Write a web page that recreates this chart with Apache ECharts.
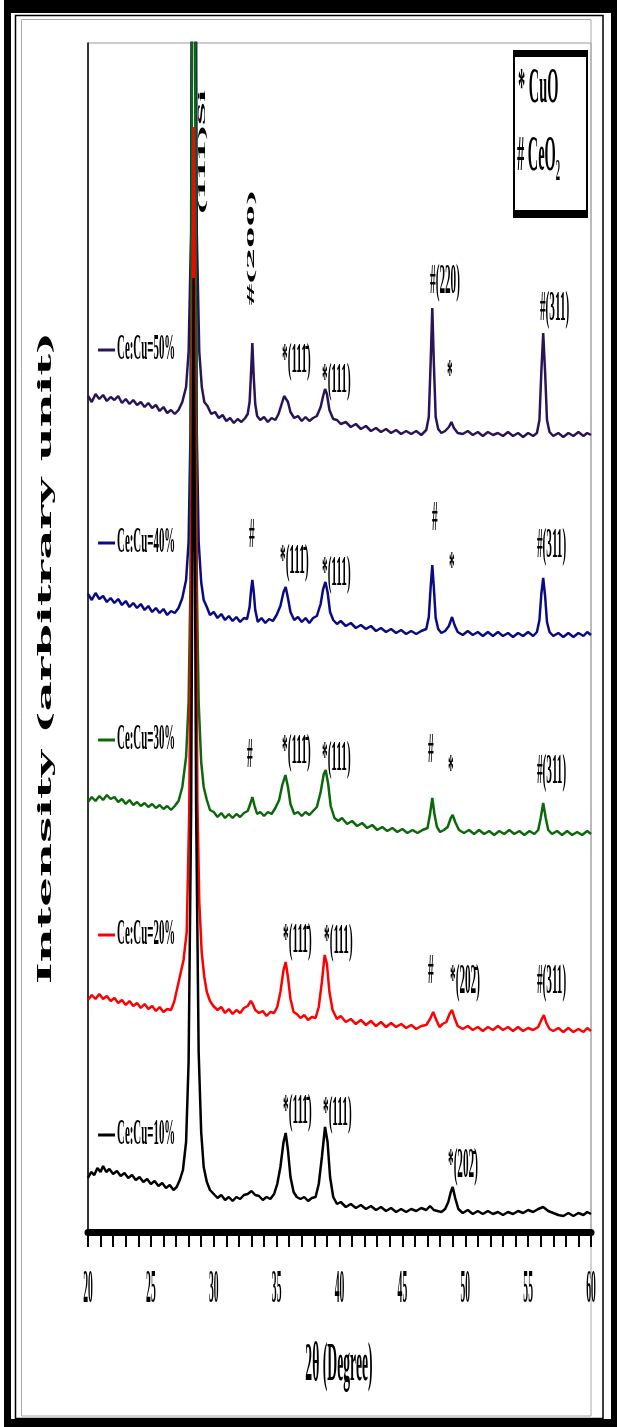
<!DOCTYPE html>
<html>
<head>
<meta charset="utf-8">
<script src="https://cdn.jsdelivr.net/npm/echarts@6/dist/echarts.min.js"></script>
<style>
  html, body { margin: 0; padding: 0; background: #fff; }
  #chart { width: 617px; height: 1427px; }
</style>
</head>
<body>
<div id="chart"></div>
<script>
// sample names, colours (drawn top curve first so lower curves sit on top)
var samples = ['Ce:Cu=50%', 'Ce:Cu=40%', 'Ce:Cu=30%', 'Ce:Cu=20%', 'Ce:Cu=10%'];
var colors = ['#2a1458', '#0a0a84', '#0b690b', '#ff0000', '#000000'];
var xTicks = [20, 25, 30, 35, 40, 45, 50, 55, 60];

// [2theta, intensity (arb., offset stacked)]
var ce50 = [[20.0,836],[20.3,830],[20.6,838],[20.9,833],[21.2,837],[21.5,831],[21.8,835],[22.1,832],[22.4,836],[22.7,829],[23.0,833],[23.3,828],[23.6,832],[23.9,827],[24.2,830],[24.5,825],[24.8,829],[25.1,824],[25.4,827],[25.7,821],[26.0,825],[26.3,819],[26.6,822],[26.9,818],[27.2,822],[27.5,830],[27.8,845],[28.0,880],[28.2,1000],[28.32,1600],[28.4,3000],[28.5,1600],[28.65,1000],[28.85,880],[29.05,845],[29.25,830],[29.5,826],[29.8,818],[30.1,820],[30.4,814],[30.7,817],[31.0,811],[31.3,814],[31.6,809],[31.9,813],[32.2,810],[32.5,814],[32.7,818],[32.85,830],[32.95,855],[33.07,889],[33.18,855],[33.3,828],[33.45,816],[33.7,812],[34.0,815],[34.3,810],[34.6,814],[34.9,812],[35.15,818],[35.4,828],[35.6,836],[35.72,838],[35.9,830],[36.1,820],[36.4,814],[36.7,816],[37.0,811],[37.3,815],[37.6,811],[37.9,814],[38.2,816],[38.5,825],[38.7,836],[38.85,843],[39.0,838],[39.2,822],[39.5,813],[39.8,812],[40.1,808],[40.5,810],[40.9,805],[41.3,808],[41.7,803],[42.1,806],[42.5,801],[42.9,804],[43.3,800],[43.7,803],[44.1,799],[44.5,802],[44.9,798],[45.3,801],[45.7,798],[46.1,801],[46.5,797],[46.9,802],[47.1,815],[47.25,870],[47.38,924],[47.5,870],[47.65,815],[47.85,803],[48.1,799],[48.4,801],[48.7,805],[48.9,810],[49.1,804],[49.4,799],[49.8,798],[50.2,801],[50.6,797],[51.0,800],[51.4,796],[51.8,800],[52.2,797],[52.6,799],[53.0,796],[53.4,800],[53.8,796],[54.2,799],[54.6,795],[55.0,799],[55.4,796],[55.7,799],[55.9,812],[56.05,860],[56.2,899],[56.35,860],[56.5,812],[56.7,800],[57.0,796],[57.4,799],[57.8,795],[58.2,799],[58.6,796],[59.0,800],[59.4,796],[59.7,799],[60.0,797]];

var ce40 = [[20.0,638],[20.3,632],[20.6,639],[20.9,633],[21.2,636],[21.5,630],[21.8,634],[22.1,629],[22.4,633],[22.7,627],[23.0,631],[23.3,625],[23.6,629],[23.9,624],[24.2,628],[24.5,622],[24.8,626],[25.1,620],[25.4,624],[25.7,619],[26.0,623],[26.3,617],[26.6,621],[26.9,619],[27.2,624],[27.5,634],[27.8,652],[28.0,690],[28.15,800],[28.3,1300],[28.4,3000],[28.5,1300],[28.65,800],[28.8,690],[29.0,650],[29.2,632],[29.45,625],[29.7,617],[30.0,620],[30.3,614],[30.6,618],[30.9,612],[31.2,616],[31.5,611],[31.8,615],[32.1,610],[32.4,614],[32.65,613],[32.85,625],[32.97,642],[33.07,652],[33.18,640],[33.3,622],[33.5,610],[33.8,614],[34.1,609],[34.4,613],[34.7,611],[35.0,617],[35.3,626],[35.55,640],[35.72,645],[35.9,634],[36.1,620],[36.4,612],[36.7,615],[37.0,610],[37.3,614],[37.6,609],[37.9,614],[38.2,616],[38.5,628],[38.7,643],[38.88,650],[39.05,640],[39.25,620],[39.5,612],[39.8,608],[40.1,611],[40.5,606],[40.9,609],[41.3,604],[41.7,607],[42.1,603],[42.5,606],[42.9,601],[43.3,604],[43.7,600],[44.1,603],[44.5,599],[44.9,602],[45.3,598],[45.7,601],[46.1,598],[46.5,601],[46.9,603],[47.1,615],[47.25,645],[47.38,667],[47.5,645],[47.65,614],[47.85,603],[48.1,599],[48.4,601],[48.7,606],[48.95,615],[49.15,607],[49.4,600],[49.8,597],[50.2,601],[50.6,597],[51.0,600],[51.4,596],[51.8,600],[52.2,596],[52.6,600],[53.0,596],[53.4,599],[53.8,595],[54.2,599],[54.6,596],[55.0,600],[55.4,596],[55.7,600],[55.9,612],[56.05,638],[56.2,654],[56.35,636],[56.5,610],[56.7,600],[57.0,596],[57.4,599],[57.8,595],[58.2,599],[58.6,595],[59.0,599],[59.4,596],[59.7,600],[60.0,597]];

var ce30 = [[20.0,430],[20.3,435],[20.6,431],[20.9,436],[21.2,432],[21.5,437],[21.8,433],[22.1,435],[22.4,430],[22.7,433],[23.0,428],[23.3,432],[23.6,427],[23.9,430],[24.2,426],[24.5,429],[24.8,425],[25.1,428],[25.4,424],[25.7,427],[26.0,423],[26.3,426],[26.6,422],[26.9,426],[27.2,431],[27.5,445],[27.8,475],[28.0,530],[28.15,650],[28.3,1300],[28.4,3000],[28.5,1300],[28.65,650],[28.8,530],[29.0,470],[29.2,445],[29.45,432],[29.7,422],[30.0,420],[30.3,415],[30.6,419],[30.9,414],[31.2,418],[31.5,414],[31.8,418],[32.1,415],[32.4,419],[32.7,421],[32.9,428],[33.07,435],[33.25,426],[33.45,418],[33.7,420],[34.0,416],[34.3,420],[34.6,418],[34.9,424],[35.2,432],[35.45,447],[35.7,457],[35.9,445],[36.1,428],[36.4,418],[36.7,420],[37.0,416],[37.3,420],[37.6,417],[37.9,421],[38.2,425],[38.5,440],[38.75,458],[38.9,462],[39.1,448],[39.3,426],[39.6,414],[39.9,411],[40.2,414],[40.6,408],[41.0,411],[41.4,406],[41.8,409],[42.2,404],[42.6,407],[43.0,402],[43.4,405],[43.8,401],[44.2,404],[44.6,400],[45.0,403],[45.4,399],[45.8,402],[46.2,399],[46.6,402],[47.0,404],[47.2,418],[47.38,434],[47.55,418],[47.75,405],[48.0,400],[48.3,402],[48.6,405],[48.85,414],[49.0,417],[49.2,410],[49.5,402],[49.9,399],[50.3,402],[50.7,398],[51.1,402],[51.5,398],[51.9,401],[52.3,397],[52.7,401],[53.1,398],[53.5,402],[53.9,398],[54.3,401],[54.7,397],[55.1,401],[55.5,398],[55.8,402],[56.0,414],[56.2,429],[56.4,414],[56.6,402],[56.9,398],[57.3,401],[57.7,397],[58.1,401],[58.5,397],[58.9,400],[59.3,397],[59.7,401],[60.0,398]];

var ce20 = [[20.0,232],[20.3,237],[20.6,233],[20.9,238],[21.2,233],[21.5,236],[21.8,231],[22.1,234],[22.4,229],[22.7,232],[23.0,227],[23.3,231],[23.6,226],[23.9,229],[24.2,224],[24.5,228],[24.8,223],[25.1,226],[25.4,221],[25.7,225],[26.0,220],[26.3,223],[26.6,222],[26.85,230],[27.1,244],[27.35,258],[27.6,272],[27.85,300],[28.05,420],[28.25,750],[28.4,1105],[28.55,750],[28.7,430],[28.85,330],[29.04,280],[29.25,255],[29.45,240],[29.7,231],[29.97,226],[30.3,222],[30.6,225],[30.9,219],[31.2,223],[31.5,218],[31.8,222],[32.1,219],[32.4,224],[32.7,226],[32.95,231],[33.1,228],[33.3,222],[33.6,219],[33.9,221],[34.2,216],[34.5,220],[34.8,219],[35.05,225],[35.3,240],[35.55,262],[35.72,270],[35.9,255],[36.1,233],[36.35,220],[36.6,218],[36.9,214],[37.2,217],[37.5,212],[37.8,215],[38.1,214],[38.35,225],[38.6,250],[38.82,277],[39.0,268],[39.2,240],[39.45,222],[39.8,213],[40.1,216],[40.5,210],[40.9,213],[41.3,208],[41.7,212],[42.1,207],[42.5,211],[42.9,206],[43.3,210],[43.7,205],[44.1,209],[44.5,205],[44.9,208],[45.3,204],[45.7,207],[46.1,203],[46.5,206],[46.9,207],[47.2,213],[47.45,220],[47.7,212],[47.95,205],[48.2,208],[48.5,210],[48.75,218],[48.95,222],[49.15,214],[49.4,206],[49.8,203],[50.2,206],[50.6,202],[51.0,205],[51.4,201],[51.8,205],[52.2,202],[52.6,206],[53.0,202],[53.4,205],[53.8,201],[54.2,205],[54.6,201],[55.0,204],[55.4,202],[55.8,205],[56.05,212],[56.25,217],[56.45,209],[56.7,203],[57.0,201],[57.4,204],[57.8,200],[58.2,204],[58.6,200],[59.0,203],[59.4,200],[59.7,204],[60.0,201]];

var ce10 = [[20.0,54],[20.25,60],[20.5,57],[20.75,64],[21.0,60],[21.2,66],[21.45,60],[21.7,63],[22.0,58],[22.3,61],[22.6,56],[22.9,59],[23.2,54],[23.5,57],[23.8,52],[24.1,55],[24.4,50],[24.7,53],[25.0,48],[25.3,51],[25.6,46],[25.9,49],[26.2,44],[26.5,47],[26.8,42],[27.05,45],[27.3,52],[27.55,62],[27.8,90],[28.0,170],[28.2,420],[28.4,954],[28.6,420],[28.8,180],[29.0,100],[29.2,65],[29.45,50],[29.7,42],[30.0,38],[30.3,34],[30.6,37],[30.9,32],[31.2,35],[31.5,31],[31.8,35],[32.1,33],[32.4,37],[32.7,38],[33.0,41],[33.3,37],[33.6,36],[33.9,32],[34.2,35],[34.5,33],[34.8,38],[35.05,48],[35.3,65],[35.55,90],[35.72,99],[35.9,82],[36.1,55],[36.35,40],[36.6,35],[36.9,33],[37.2,35],[37.5,31],[37.8,34],[38.1,35],[38.35,48],[38.6,75],[38.85,105],[39.05,90],[39.25,55],[39.5,35],[39.8,28],[40.1,30],[40.5,25],[40.9,28],[41.3,24],[41.7,27],[42.1,23],[42.5,26],[42.9,22],[43.3,25],[43.7,21],[44.1,24],[44.5,20],[44.9,23],[45.3,20],[45.7,23],[46.1,21],[46.5,24],[46.9,22],[47.2,26],[47.5,22],[47.8,21],[48.1,20],[48.4,23],[48.65,30],[48.85,40],[49.0,45],[49.2,34],[49.45,23],[49.8,19],[50.2,22],[50.6,18],[51.0,21],[51.4,18],[51.8,21],[52.2,18],[52.6,20],[53.0,17],[53.4,20],[53.8,18],[54.2,21],[54.6,19],[55.0,22],[55.4,20],[55.8,23],[56.2,25],[56.6,21],[57.0,19],[57.4,17],[57.8,16],[58.2,19],[58.6,16],[59.0,19],[59.4,17],[59.7,20],[60.0,18]];

// peak labels: [2theta, intensity, text] -> left/bottom corner of the text
var b111 = '*(111\u0304)';
var b202 = '*(202\u0304)';
var labels50 = [[35.43,850,b111],[38.61,830,'*(111)'],[47.2,929,'#(220)'],[48.55,834,'*'],[55.94,902,'#(311)']];
var labels40 = [[32.8,675,'#'],[35.27,649,b111],[38.61,637,'*(111)'],[47.36,692,'#'],[48.7,642,'*'],[55.7,665,'#(311)']];
var labels30 = [[32.64,455,'#'],[35.43,459,b111],[38.61,452,'*(111)'],[47.04,460,'#'],[48.63,439,'*'],[55.7,439,'#(311)']];
var labels20 = [[35.51,270,b111],[38.77,269,'*(111)'],[47.04,239,'#'],[48.79,229,b202],[55.7,229,'#(311)']];
var labels10 = [[35.51,99,b111],[38.69,97,'*(111)'],[48.63,45,b202]];
// rotated labels, centre point
var rotLabels = [[29.07,1080,'(111)Si'],[32.96,984,'#(200)']];
// sample tags: line start, line end, text left, intensity
var tagPos = [[20.8,22.15,22.31,882],[20.8,22.15,22.31,689],[20.8,22.15,22.31,492],[20.8,22.15,22.31,297],[20.8,22.15,22.31,97]];

var chart = echarts.init(document.getElementById('chart'));
var curves = [ce50, ce40, ce30, ce20, ce10];

chart.setOption({
  animation: false,
  backgroundColor: '#fff',
  grid: { left: 88, right: 26, top: 43, bottom: 195, show: true, borderColor: '#9a9a9a', borderWidth: 1 },
  xAxis: {
    type: 'value', min: 20, max: 60, interval: 5,
    axisLine: { lineStyle: { color: '#000', width: 7 } },
    axisTick: { length: 15, lineStyle: { color: '#000', width: 2 } },
    minorTick: { show: true, splitNumber: 5, length: 15, lineStyle: { color: '#000', width: 2 } },
    axisLabel: { show: false },
    splitLine: { show: false }
  },
  yAxis: {
    type: 'value', min: 0, max: 1189,
    axisLine: { show: true, lineStyle: { color: '#000', width: 1.5 } },
    axisTick: { show: false }, axisLabel: { show: false }, splitLine: { show: false }
  },
  series: curves.map(function(d, i) {
    return { name: samples[i], type: 'line', data: d, symbol: 'none', clip: true,
      lineStyle: { color: colors[i], width: 2.5 }, z: 2 + i };
  })
});

function px(pt) { return chart.convertToPixel({ gridIndex: 0 }, pt); }

function txt(x, y, s, o) {
  return {
    type: 'text', x: x, y: y, z: 100,
    scaleX: o.sx, scaleY: o.sy, rotation: o.rot || 0,
    style: {
      text: s, fill: '#000', fontSize: o.size, fontWeight: 'bold',
      fontFamily: o.family || '"Liberation Serif", serif',
      align: o.align || 'left', verticalAlign: o.valign || 'bottom',
      textAlign: o.align || 'left', textVerticalAlign: o.valign || 'bottom'
    }
  };
}

var g = [];
// page frame
g.push({ type: 'rect', shape: { x: 4, y: 0, width: 613, height: 13 }, style: { fill: '#000' } });
g.push({ type: 'rect', shape: { x: 4, y: 0, width: 7, height: 1427 }, style: { fill: '#000' } });
g.push({ type: 'rect', shape: { x: 611, y: 0, width: 6, height: 1427 }, style: { fill: '#000' } });
g.push({ type: 'rect', shape: { x: 4, y: 1419, width: 613, height: 8 }, style: { fill: '#000' } });
g.push({ type: 'rect', shape: { x: 15.5, y: 15.5, width: 587.5, height: 1403 }, style: { fill: 'none', stroke: '#000', lineWidth: 1.5 } });
g.push({ type: 'rect', shape: { x: 21.5, y: 19.5, width: 569.5, height: 1396.5 }, style: { fill: 'none', stroke: '#a8a8a8', lineWidth: 1 } });

// legend box
g.push({ type: 'rect', shape: { x: 514, y: 51, width: 73, height: 166 }, style: { fill: '#fff', stroke: '#000', lineWidth: 2 }, z: 50 });
g.push({ type: 'rect', shape: { x: 513, y: 50, width: 75, height: 7 }, style: { fill: '#000' }, z: 51 });
g.push({ type: 'rect', shape: { x: 513, y: 210, width: 75, height: 7 }, style: { fill: '#000' }, z: 51 });
g.push(txt(518, 89, '* CuO', { size: 18, sx: 0.8, sy: 2.8, valign: 'middle' }));
g.push(txt(517, 157, '# CeO\u2082', { size: 18, sx: 0.8, sy: 2.8, valign: 'middle' }));

// peak labels
[labels50, labels40, labels30, labels20, labels10].forEach(function(set) {
  set.forEach(function(l) {
    var p = px([l[0], l[1]]);
    g.push(txt(p[0], p[1], l[2], { size: 17, sx: 0.66, sy: 2.5 }));
  });
});
rotLabels.forEach(function(l) {
  var p = px([l[0], l[1]]);
  g.push(txt(p[0], p[1], l[2], { size: 11, sx: 3.9, sy: 1.0, rot: Math.PI / 2, align: 'center', valign: 'middle' }));
});

// sample tags
tagPos.forEach(function(t, i) {
  var a = px([t[0], t[3]]), b = px([t[1], t[3]]), c = px([t[2], t[3]]);
  g.push({ type: 'line', z: 100, shape: { x1: a[0], y1: a[1], x2: b[0], y2: b[1] }, style: { stroke: colors[i], lineWidth: 3 } });
  g.push(txt(c[0], c[1], samples[i], { size: 16, sx: 0.68, sy: 2.2, valign: 'middle' }));
});

// x tick labels
xTicks.forEach(function(v) {
  var p = chart.convertToPixel({ xAxisIndex: 0 }, v);
  g.push(txt(p, 1290, String(v), { size: 16, sx: 0.6, sy: 2.9, align: 'center', valign: 'middle' }));
});

// axis titles
g.push(txt(339, 1366, '2\u03b8 (Degree)', { size: 18, sx: 0.76, sy: 3.0, align: 'center', valign: 'middle' }));
g.push(txt(46, 658, 'Intensity (arbitrary unit)', { size: 18, sx: 2.6, sy: 1.05, rot: Math.PI / 2, align: 'center', valign: 'middle', family: '"DejaVu Serif", serif' }));

chart.setOption({ graphic: g });
window.addEventListener('resize', function() { chart.resize(); });
</script>
</body>
</html>
